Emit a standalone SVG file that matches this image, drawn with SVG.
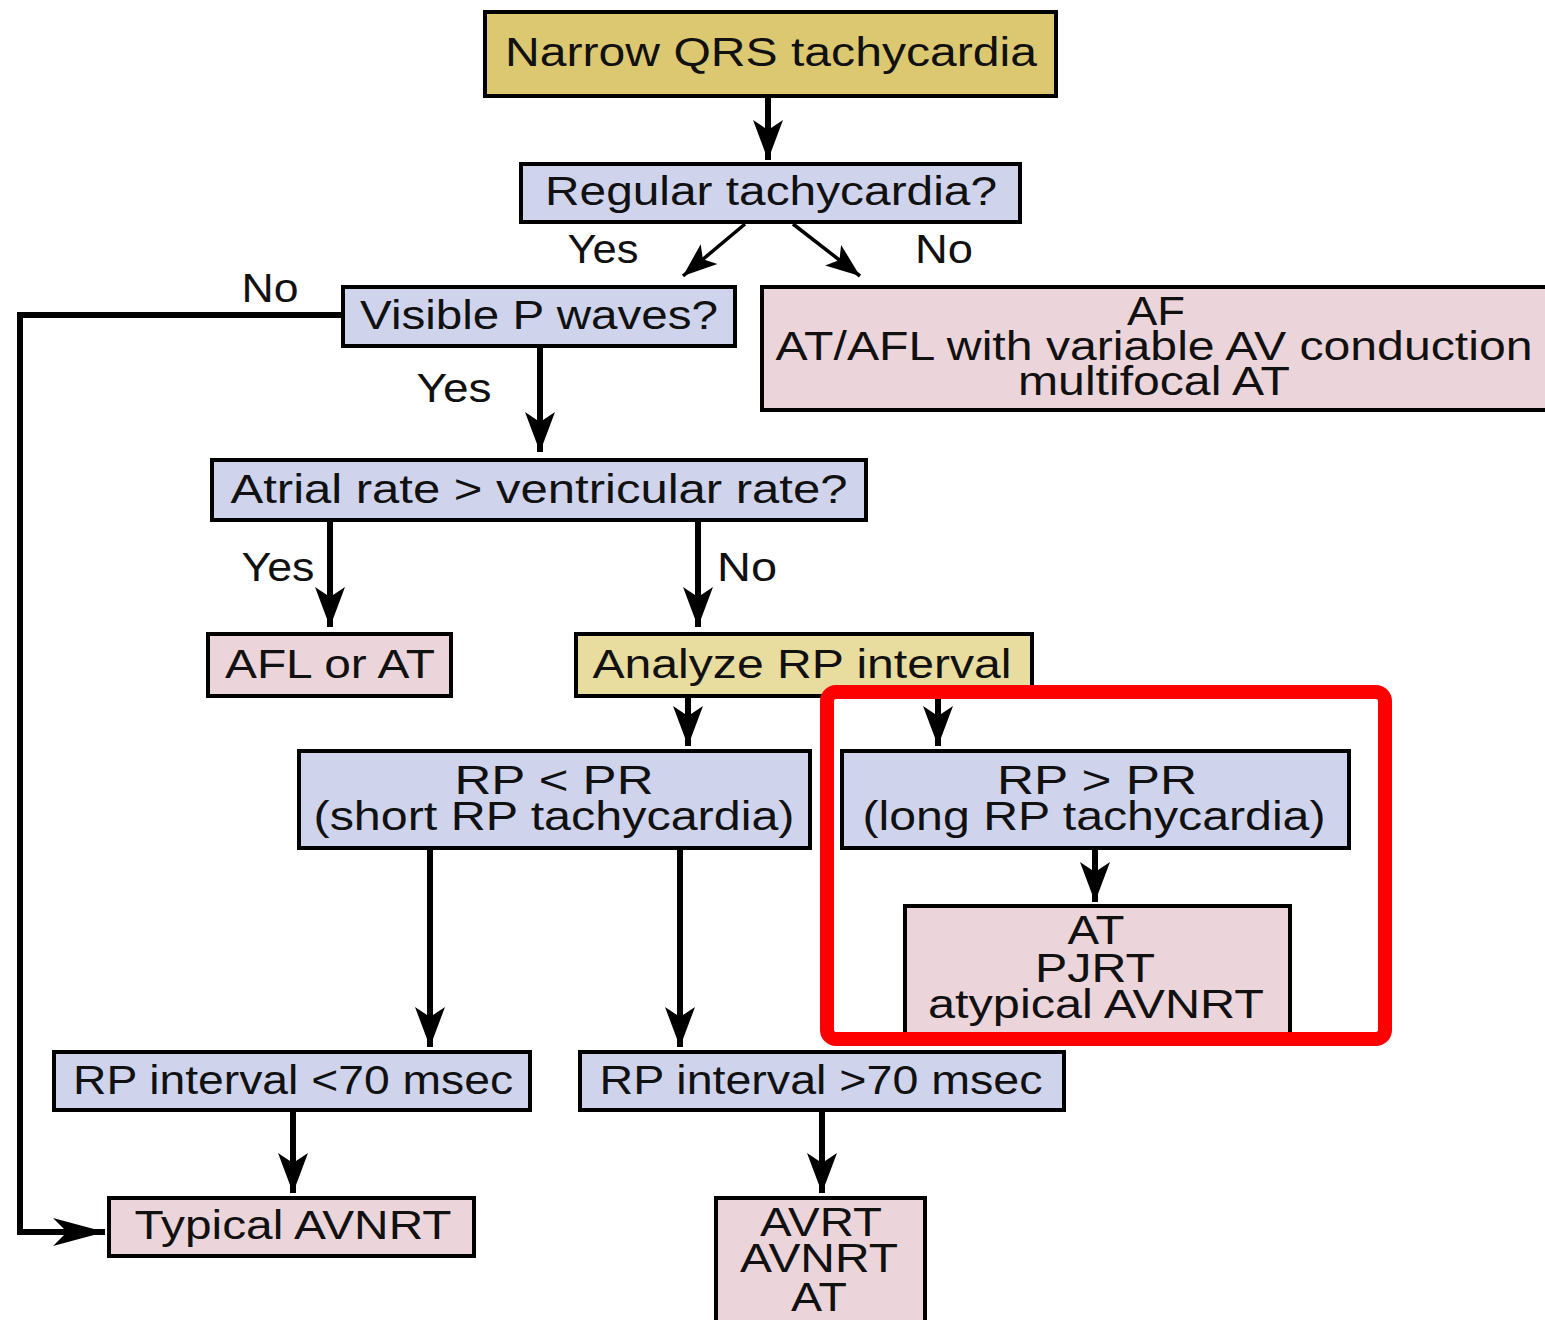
<svg xmlns="http://www.w3.org/2000/svg" width="1545" height="1320" viewBox="0 0 1545 1320">
<style>
  .box { stroke: #000; stroke-width: 4; }
  .blue { fill: #cfd4ec; }
  .pink { fill: #ecd5da; }
  .gold { fill: #dcc870; }
  .lgold { fill: #e8dc9f; }
  text { font-family: "Liberation Sans", Arial, sans-serif; font-size: 40px; fill: #111; text-anchor: middle; }
  .conn { stroke: #000; stroke-width: 6; fill: none; }
  .thin { stroke-width: 3.5; }
</style>
<defs>
  <marker id="ah" markerUnits="userSpaceOnUse" viewBox="-45 -20 50 40" refX="0" refY="0" markerWidth="50" markerHeight="40" orient="auto">
    <path d="M0,0 L-40,-15 L-30,0 L-40,15 Z" fill="#000"/>
  </marker>
  <marker id="ahs" markerUnits="userSpaceOnUse" viewBox="-45 -20 50 40" refX="0" refY="0" markerWidth="50" markerHeight="40" orient="auto">
    <path d="M0,0 L-34,-13 L-26,0 L-34,13 Z" fill="#000"/>
  </marker>
  <marker id="ahl" markerUnits="userSpaceOnUse" viewBox="-60 -20 65 40" refX="0" refY="0" markerWidth="65" markerHeight="40" orient="auto">
    <path d="M0,0 L-52,-14 L-38,0 L-52,14 Z" fill="#000"/>
  </marker>
</defs>

<g id="connectors">
  <line class="conn" x1="768" y1="96" x2="768" y2="160" marker-end="url(#ah)"/>
  <line class="conn thin" x1="745" y1="224" x2="683" y2="276" marker-end="url(#ahs)"/>
  <line class="conn thin" x1="793" y1="224" x2="860" y2="276" marker-end="url(#ahs)"/>
  <path class="conn" d="M343,315 H20 V1232 H105" marker-end="url(#ahl)"/>
  <line class="conn" x1="540" y1="346" x2="540" y2="452" marker-end="url(#ah)"/>
  <line class="conn" x1="330" y1="520" x2="330" y2="627" marker-end="url(#ah)"/>
  <line class="conn" x1="698" y1="520" x2="698" y2="627" marker-end="url(#ah)"/>
  <line class="conn" x1="688" y1="696" x2="688" y2="746" marker-end="url(#ah)"/>
  <line class="conn" x1="938" y1="696" x2="938" y2="746" marker-end="url(#ah)"/>
  <line class="conn" x1="1095" y1="848" x2="1095" y2="902" marker-end="url(#ah)"/>
  <line class="conn" x1="430" y1="848" x2="430" y2="1047" marker-end="url(#ah)"/>
  <line class="conn" x1="680" y1="848" x2="680" y2="1047" marker-end="url(#ah)"/>
  <line class="conn" x1="293" y1="1110" x2="293" y2="1193" marker-end="url(#ah)"/>
  <line class="conn" x1="822" y1="1110" x2="822" y2="1193" marker-end="url(#ah)"/>
</g>

<g id="labels">
  <text x="603" y="263" textLength="71" lengthAdjust="spacingAndGlyphs">Yes</text>
  <text x="944" y="263" textLength="58" lengthAdjust="spacingAndGlyphs">No</text>
  <text x="270" y="302" textLength="57" lengthAdjust="spacingAndGlyphs">No</text>
  <text x="454" y="402" textLength="75" lengthAdjust="spacingAndGlyphs">Yes</text>
  <text x="278" y="581" textLength="73" lengthAdjust="spacingAndGlyphs">Yes</text>
  <text x="747" y="581" textLength="60" lengthAdjust="spacingAndGlyphs">No</text>
</g>

<g id="n-narrow">
  <rect class="box gold" x="485" y="12" width="571" height="84"/>
  <text x="771" y="66" textLength="532" lengthAdjust="spacingAndGlyphs">Narrow QRS tachycardia</text>
</g>
<g id="n-regular">
  <rect class="box blue" x="521" y="164" width="499" height="58"/>
  <text x="771" y="205" textLength="452" lengthAdjust="spacingAndGlyphs">Regular tachycardia?</text>
</g>
<g id="n-visible">
  <rect class="box blue" x="343" y="287" width="392" height="59"/>
  <text x="539" y="329" textLength="358" lengthAdjust="spacingAndGlyphs">Visible P waves?</text>
</g>
<g id="n-af">
  <rect class="box pink" x="762" y="287" width="790" height="123"/>
  <text x="1156" y="325" textLength="58" lengthAdjust="spacingAndGlyphs">AF</text>
  <text x="1154" y="360" textLength="757" lengthAdjust="spacingAndGlyphs">AT/AFL with variable AV conduction</text>
  <text x="1154" y="395" textLength="272" lengthAdjust="spacingAndGlyphs">multifocal AT</text>
</g>
<g id="n-atrial">
  <rect class="box blue" x="212" y="460" width="654" height="60"/>
  <text x="539" y="503" textLength="617" lengthAdjust="spacingAndGlyphs">Atrial rate &gt; ventricular rate?</text>
</g>
<g id="n-afl">
  <rect class="box pink" x="208" y="634" width="243" height="62"/>
  <text x="330" y="678" textLength="210" lengthAdjust="spacingAndGlyphs">AFL or AT</text>
</g>
<g id="n-analyze">
  <rect class="box lgold" x="576" y="634" width="456" height="62"/>
  <text x="802" y="678" textLength="419" lengthAdjust="spacingAndGlyphs">Analyze RP interval</text>
</g>
<g id="n-short">
  <rect class="box blue" x="299" y="751" width="511" height="97"/>
  <text x="554" y="794" textLength="199" lengthAdjust="spacingAndGlyphs">RP &lt; PR</text>
  <text x="554" y="830" textLength="481" lengthAdjust="spacingAndGlyphs">(short RP tachycardia)</text>
</g>
<g id="n-long">
  <rect class="box blue" x="842" y="751" width="507" height="97"/>
  <text x="1097" y="794" textLength="200" lengthAdjust="spacingAndGlyphs">RP &gt; PR</text>
  <text x="1094" y="830" textLength="463" lengthAdjust="spacingAndGlyphs">(long RP tachycardia)</text>
</g>
<g id="n-at-pjrt">
  <rect class="box pink" x="905" y="906" width="385" height="130"/>
  <text x="1096" y="944" textLength="57" lengthAdjust="spacingAndGlyphs">AT</text>
  <text x="1095" y="982" textLength="120" lengthAdjust="spacingAndGlyphs">PJRT</text>
  <text x="1096" y="1018" textLength="336" lengthAdjust="spacingAndGlyphs">atypical AVNRT</text>
</g>
<g id="n-lt70">
  <rect class="box blue" x="54" y="1052" width="476" height="58"/>
  <text x="293" y="1094" textLength="440" lengthAdjust="spacingAndGlyphs">RP interval &lt;70 msec</text>
</g>
<g id="n-gt70">
  <rect class="box blue" x="580" y="1052" width="484" height="58"/>
  <text x="821" y="1094" textLength="443" lengthAdjust="spacingAndGlyphs">RP interval &gt;70 msec</text>
</g>
<g id="n-typical">
  <rect class="box pink" x="109" y="1198" width="365" height="58"/>
  <text x="293" y="1239" textLength="317" lengthAdjust="spacingAndGlyphs">Typical AVNRT</text>
</g>
<g id="n-avrt">
  <rect class="box pink" x="716" y="1198" width="209" height="130"/>
  <text x="821" y="1236" textLength="122" lengthAdjust="spacingAndGlyphs">AVRT</text>
  <text x="819" y="1272" textLength="158" lengthAdjust="spacingAndGlyphs">AVNRT</text>
  <text x="819" y="1311" textLength="56" lengthAdjust="spacingAndGlyphs">AT</text>
</g>

<g id="highlight">
  <rect x="827" y="692" width="558" height="347" rx="9" fill="none" stroke="#ff0000" stroke-width="14"/>
</g>
</svg>
